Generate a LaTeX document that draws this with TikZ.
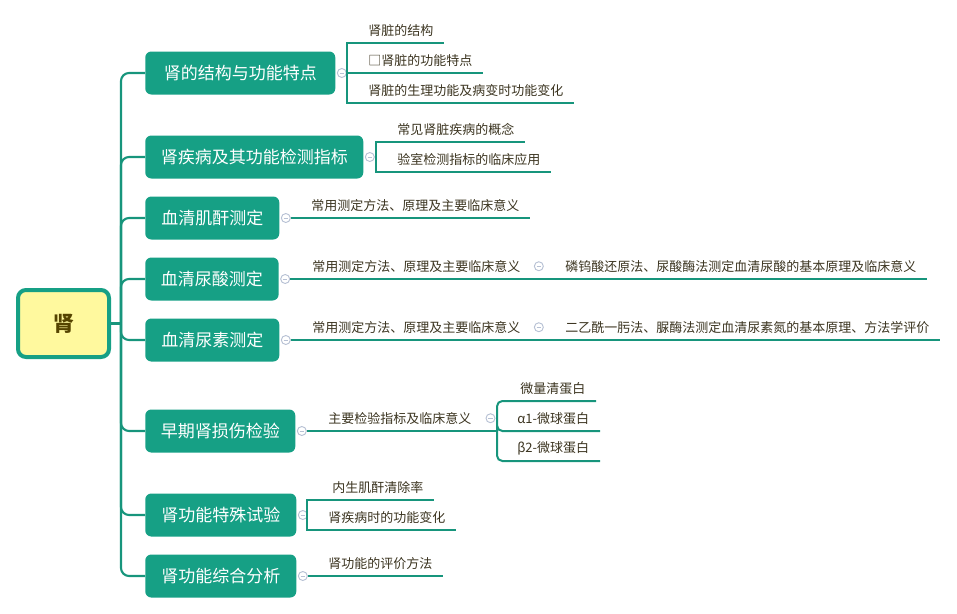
\documentclass[tikz,border=0pt]{standalone}
\usepackage{fontspec}
\setmainfont{Noto Sans CJK SC}
\usetikzlibrary{positioning}
\definecolor{kidteal}{HTML}{16A085}
\definecolor{kidline}{HTML}{17957C}
\definecolor{kidyellow}{HTML}{FFF99E}
\definecolor{kidbrown}{HTML}{554400}
\definecolor{kidtext}{HTML}{3B3420}
\definecolor{kidfold}{HTML}{B7C1D4}

\begin{document}
\begin{tikzpicture}[
  x=0.75pt, y=-0.75pt,
  rootbox/.style={draw=kidteal, line width=3pt, fill=kidyellow, rounded corners=6pt, minimum width=68.25pt, minimum height=50.25pt, text=kidbrown, font=\bfseries\fontsize{15.75pt}{18pt}\selectfont},
  topic/.style={fill=kidteal, rounded corners=4.5pt, anchor=west, inner xsep=0pt, minimum height=32.25pt, text=white, font=\fontsize{12.75pt}{14pt}\selectfont},
  leaf/.style={anchor=south west, inner sep=0pt, minimum height=18.75pt, text=kidtext, font=\fontsize{9.75pt}{11pt}\selectfont},
  fold/.style={circle, draw=kidfold, line width=0.7pt, fill=white, minimum size=6.75pt, inner sep=0pt,
    path picture={\draw[kidfold, line width=0.6pt] ([xshift=-1.7pt]path picture bounding box.center) -- ([xshift=1.7pt]path picture bounding box.center);}},
  trunk/.style={kidline, line width=1.6pt},
  twig/.style={kidline, line width=1.5pt}
]
\useasboundingbox (0,0) rectangle (957,614);
\node[rootbox] (root) at (63.5,323.5) {肾};
\coordinate (hub) at (121,323.5);
\node[topic, minimum width=142.5pt] (structure) at (145,73) {肾的结构与功能特点};
\node[topic, minimum width=163.5pt] (disease) at (145,157) {肾疾病及其功能检测指标};
\node[topic, minimum width=100.5pt] (creatinine) at (145,218) {血清肌酐测定};
\node[topic, minimum width=100pt] (uricacid) at (145,279) {血清尿酸测定};
\node[topic, minimum width=100.5pt] (urea) at (145,340) {血清尿素测定};
\node[topic, minimum width=112.5pt] (early) at (145,431) {早期肾损伤检验};
\node[topic, minimum width=113.25pt] (special) at (145,515) {肾功能特殊试验};
\node[topic, minimum width=113.25pt] (overall) at (145,576) {肾功能综合分析};
\draw[trunk] (root) -- (hub);
\foreach \t in {structure,disease,creatinine,uricacid,urea,early,special,overall}
  \draw[trunk, rounded corners=6pt] (hub) |- (\t.west);
\foreach \t in {structure,disease,creatinine,uricacid,urea,early,special,overall}
  \node[fold, right=1pt of \t] (f-\t) {};

% structure
\coordinate (j-structure) at (347,73);
\node[leaf] (l-struct1) at (368,43) {肾脏的结构};
\node[leaf] (l-struct2) at (368,73) {□肾脏的功能特点};
\node[leaf] (l-struct3) at (368,103) {肾脏的生理功能及病变时功能变化};
\draw[twig] (f-structure) -- (j-structure);
\foreach \l in {l-struct1,l-struct2,l-struct3}
  \draw[twig] (j-structure) |- ([xshift=8pt]\l.south east);

% disease
\coordinate (j-disease) at (376,157);
\node[leaf] (l-dis1) at (397,142) {常见肾脏疾病的概念};
\node[leaf] (l-dis2) at (397,172) {验室检测指标的临床应用};
\draw[twig] (f-disease) -- (j-disease);
\foreach \l in {l-dis1,l-dis2}
  \draw[twig] (j-disease) |- ([xshift=8pt]\l.south east);

% creatinine
\node[leaf] (l-crea) at (311,218) {常用测定方法、原理及主要临床意义};
\draw[twig] (f-creatinine) -- ([xshift=8pt]l-crea.south east);

% uric acid
\node[leaf] (l-uric) at (312,279) {常用测定方法、原理及主要临床意义};
\node[fold, right=10pt of l-uric] (f-uric) {};
\node[leaf] (l-uric2) at (565,279) {磷钨酸还原法、尿酸酶法测定血清尿酸的基本原理及临床意义};
\draw[twig] (f-uricacid) -- ([xshift=8pt]l-uric2.south east);

% urea
\node[leaf] (l-urea) at (312,340) {常用测定方法、原理及主要临床意义};
\node[fold, right=10pt of l-urea] (f-urea2) {};
\node[leaf] (l-urea2) at (565,340) {二乙酰一肟法、脲酶法测定血清尿素氮的基本原理、方法学评价};
\draw[twig] (f-urea) -- ([xshift=8pt]l-urea2.south east);

% early damage
\node[leaf] (l-early) at (328,431) {主要检验指标及临床意义};
\node[fold, right=10.5pt of l-early] (f-early2) {};
\coordinate (j-early) at (497,431);
\node[leaf] (l-alb) at (520,401) {微量清蛋白};
\node[leaf] (l-alpha) at (517,431) {α1-微球蛋白};
\node[leaf] (l-beta) at (517,461) {β2-微球蛋白};
\draw[twig] (f-early) -- (j-early);
\foreach \l in {l-alb,l-alpha,l-beta}
  \draw[twig, rounded corners=4pt] (j-early) |- ([xshift=8pt]\l.south east);

% special tests
\coordinate (j-special) at (307,515);
\node[leaf] (l-spec1) at (332,500) {内生肌酐清除率};
\node[leaf] (l-spec2) at (328,530) {肾疾病时的功能变化};
\draw[twig] (f-special) -- (j-special);
\foreach \l in {l-spec1,l-spec2}
  \draw[twig] (j-special) |- ([xshift=8pt]\l.south east);

% overall
\node[leaf] (l-over) at (328,576) {肾功能的评价方法};
\draw[twig] (f-overall) -- ([xshift=8pt]l-over.south east);
\end{tikzpicture}
\end{document}
